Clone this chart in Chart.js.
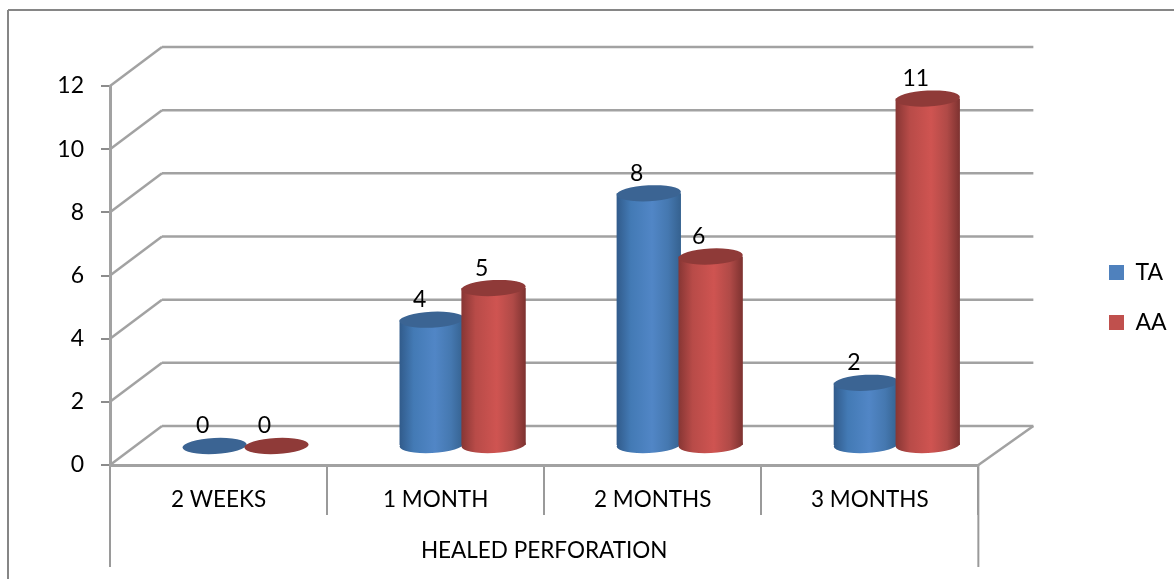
<!DOCTYPE html>
<html>
<head>
<meta charset="utf-8">
<title>Healed perforation</title>
<script src="https://cdn.jsdelivr.net/npm/chart.js@4"></script>
<style>
  html, body { margin: 0; padding: 0; background: #fff; }
  #wrap { width: 1174px; height: 579px; }
</style>
</head>
<body>
<div id="wrap"><canvas id="chart"></canvas></div>
<script>
const categories = ['2 WEEKS', '1 MONTH', '2 MONTHS', '3 MONTHS'];
const taValues = [0, 4, 8, 2];
const aaValues = [0, 5, 6, 11];
const axisTitle = 'HEALED PERFORATION';

const fontName = 'Lato, "Open Sans", sans-serif';
const lineGrey = '#a2a2a2';

// shades for the cylinders: edges, in between, light, cap
const shades = [
  { edgeL: '#315b8b', softL: '#437ab5', mid: '#5186c6', softR: '#4578b0', edgeR: '#35618f', cap: '#3b6493' },
  { edgeL: '#873634', softL: '#b84b48', mid: '#cf5451', softR: '#b04a47', edgeR: '#7d3230', cap: '#8f3a38' }
];

// depth of the fake 3D box
const depthL = 52, depthR = 55, depthY = 39;
// bars stand in the middle of the floor
const barDx = 27, barDy = 19, capRy = 8, capTilt = -0.05;

function line(ctx, x1, y1, x2, y2) {
  ctx.beginPath();
  ctx.moveTo(x1, y1);
  ctx.lineTo(x2, y2);
  ctx.stroke();
}

const box3d = {
  id: 'box3d',
  afterLayout(chart) {
    // legend sits higher than the middle of its box and right of its slot
    chart.legend.top -= 35;
    chart.legend.bottom -= 35;
    chart.legend.left = 1109 - 27;
    chart.legend.right = 1174;
  },
  beforeDraw(chart) {
    const ctx = chart.ctx, x = chart.scales.x, y = chart.scales.y;
    ctx.save();
    // outer frame, open on the right and bottom
    ctx.strokeStyle = '#868686';
    ctx.lineWidth = 2;
    line(ctx, 8, 579, 8, 10);
    line(ctx, 8, 10, 1174, 10);

    ctx.strokeStyle = lineGrey;
    ctx.lineWidth = 2.5;
    y.ticks.forEach(t => {
      const py = y.getPixelForValue(t.value);
      line(ctx, x.left, py, x.left + depthL, py - depthY);
      line(ctx, x.left + depthL, py - depthY, x.right + depthR, py - depthY);
    });
    // right side of the floor
    const py0 = y.getPixelForValue(0);
    line(ctx, x.right, py0, x.right + depthR, py0 - depthY);
    // the two outer dividers run down past the title
    ctx.lineWidth = 2;
    ctx.strokeStyle = '#9a9a9a';
    line(ctx, x.left, py0, x.left, 567);
    line(ctx, x.right, py0, x.right, 567);
    ctx.restore();
  },
  beforeDatasetsDraw(chart) {
    const ctx = chart.ctx;
    ctx.save();
    ctx.translate(barDx, -barDy);
    chart.data.datasets.forEach((ds, i) => {
      const shade = shades[i];
      chart.getDatasetMeta(i).data.forEach(el => {
        const w = el.width, left = el.x - w / 2, right = el.x + w / 2;
        const grad = ctx.createLinearGradient(left, 0, right, 0);
        grad.addColorStop(0, shade.edgeL);
        grad.addColorStop(0.22, shade.softL);
        grad.addColorStop(0.55, shade.mid);
        grad.addColorStop(0.8, shade.softR);
        grad.addColorStop(1, shade.edgeR);
        if (el.height > 0) {
          // rounded foot first, then the body through the bar element
          ctx.fillStyle = grad;
          ctx.beginPath();
          ctx.ellipse(el.x, el.base, w / 2, capRy, capTilt, 0, Math.PI * 2);
          ctx.fill();
          el.options = Object.assign({}, el.options, { backgroundColor: grad });
          el.draw(ctx);
        }
        ctx.fillStyle = shade.cap;
        ctx.beginPath();
        ctx.ellipse(el.x, el.y, w / 2, capRy, capTilt, 0, Math.PI * 2);
        ctx.fill();
      });
    });
    // value labels, up and left of the caps
    ctx.fillStyle = '#000';
    ctx.font = '23px ' + fontName;
    ctx.textAlign = 'center';
    ctx.textBaseline = 'middle';
    chart.data.datasets.forEach((ds, i) => {
      chart.getDatasetMeta(i).data.forEach((el, j) => {
        ctx.fillText(String(ds.data[j]), el.x - 12, el.y - 20);
      });
    });
    ctx.restore();
    return false;
  }
};

new Chart(document.getElementById('chart'), {
  type: 'bar',
  data: {
    labels: categories,
    datasets: [
      { label: 'TA', data: taValues, backgroundColor: '#4f81bd', borderWidth: 0,
        categoryPercentage: 0.57, barPercentage: 1.04 },
      { label: 'AA', data: aaValues, backgroundColor: '#c0504d', borderWidth: 0,
        categoryPercentage: 0.57, barPercentage: 1.04 }
    ]
  },
  plugins: [box3d],
  options: {
    responsive: true,
    maintainAspectRatio: false,
    animation: false,
    layout: { padding: { top: 86, right: 101, bottom: 0, left: 0 } },
    plugins: {
      tooltip: { enabled: false },
      legend: {
        position: 'right',
        labels: {
          color: '#000',
          font: { family: fontName, size: 23 },
          boxWidth: 15,
          boxHeight: 15,
          padding: 27
        }
      }
    },
    scales: {
      x: {
        afterFit(s) { s.height = 114; },
        grid: {
          drawOnChartArea: false,
          color: '#9a9a9a',
          lineWidth: 2,
          tickLength: 50,
          tickColor: '#9a9a9a'
        },
        border: { color: lineGrey, width: 3 },
        ticks: {
          color: '#000',
          font: { family: fontName, size: 22.5 },
          padding: -29,
          maxRotation: 0
        },
        title: {
          display: true,
          text: axisTitle,
          color: '#000',
          font: { family: fontName, size: 22.5 },
          padding: { top: 0, bottom: 15 }
        }
      },
      y: {
        min: 0,
        max: 12,
        afterFit(s) { s.width = 110; },
        grid: {
          drawOnChartArea: false,
          color: '#8c8c8c',
          lineWidth: 2,
          tickLength: 9,
          tickColor: '#8c8c8c'
        },
        border: { color: lineGrey, width: 3 },
        ticks: {
          stepSize: 2,
          color: '#000',
          font: { family: fontName, size: 23 },
          padding: 17
        }
      }
    }
  }
});
</script>
</body>
</html>
